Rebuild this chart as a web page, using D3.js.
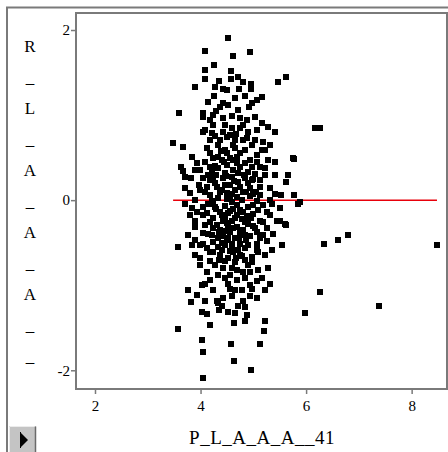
<!DOCTYPE html>
<html>
<head>
<meta charset="utf-8">
<script src="https://cdn.jsdelivr.net/npm/d3@7/dist/d3.min.js"></script>
<style>
  body { margin: 0; background: #fff; }
  svg { display: block; }
</style>
</head>
<body>
<div class="chart"></div>
<script>
// residual points [x, residual]
const points = [
  [4.52, 1.91], [4.08, 1.75], [4.61, 1.69], [4.94, 1.74], [4.25, 1.59], [4.08, 1.53], [4.58, 1.52],
  [4.08, 1.42], [4.58, 1.42], [4.71, 1.45], [4.80, 1.39], [4.95, 1.36], [3.89, 1.33], [4.27, 1.33],
  [4.42, 1.31], [4.73, 1.31], [4.95, 1.31], [5.47, 1.39], [5.62, 1.45], [4.25, 1.22], [5.16, 1.21],
  [5.07, 1.18], [4.97, 1.14], [4.92, 1.09], [4.42, 1.14], [4.37, 1.09], [3.59, 1.02], [4.05, 1.02],
  [4.23, 1.00], [4.05, 0.98], [4.42, 0.96], [4.59, 0.99], [4.88, 0.94], [5.03, 0.98], [5.16, 0.91],
  [5.28, 0.86], [5.41, 0.80], [3.48, 0.67], [3.67, 0.62], [4.05, 0.80], [4.27, 0.75], [4.42, 0.80],
  [4.75, 0.85], [4.90, 0.80], [5.07, 0.82], [4.18, 0.71], [4.50, 0.74], [4.65, 0.71], [4.88, 0.73],
  [5.03, 0.71], [5.18, 0.68], [5.31, 0.65], [3.84, 0.51], [3.93, 0.44], [4.18, 0.55], [4.33, 0.51],
  [4.50, 0.56], [4.69, 0.51], [4.84, 0.59], [5.07, 0.53], [5.41, 0.45], [5.75, 0.49], [3.63, 0.39],
  [4.18, 0.39], [4.50, 0.41], [4.75, 0.39], [4.97, 0.39], [5.13, 0.39],
  [6.17, 0.85], [6.26, 0.85], [5.77, 0.48], [5.66, 0.29], [5.62, 0.21], [5.52, 0.06], [5.77, 0.06],
  [5.88, -0.02], [5.50, -0.24], [5.62, -0.29], [5.54, -0.53], [6.34, -0.52], [6.60, -0.47],
  [6.79, -0.41], [8.48, -0.53], [6.26, -1.08], [5.98, -1.33], [7.38, -1.25],
  [3.67, 0.34], [3.89, 0.35], [4.22, 0.33], [4.46, 0.32], [4.71, 0.32], [5.03, 0.31], [3.70, 0.27],
  [3.82, 0.26], [4.05, 0.26], [4.18, 0.24], [4.42, 0.26], [4.59, 0.27], [4.84, 0.26], [4.97, 0.24],
  [5.13, 0.24], [3.97, 0.18], [4.12, 0.15], [4.31, 0.16], [4.56, 0.18], [4.75, 0.16], [4.94, 0.14],
  [5.13, 0.15], [3.80, 0.08], [4.18, 0.06], [4.37, 0.09], [4.50, 0.08], [4.80, 0.09], [4.99, 0.07],
  [5.41, 0.07], [3.89, 0.00], [4.22, -0.01], [4.50, 0.01], [4.78, 0.00], [5.07, -0.01], [5.31, 0.00],
  [3.70, -0.04], [3.84, -0.09], [4.05, -0.08], [4.23, -0.04], [4.46, -0.07], [4.69, -0.06],
  [4.90, -0.08], [5.18, -0.06], [5.35, -0.04], [5.84, -0.04], [3.93, -0.14], [4.12, -0.15],
  [4.37, -0.14], [4.56, -0.13], [4.80, -0.14], [4.99, -0.16], [5.26, -0.14], [3.89, -0.24],
  [4.05, -0.18], [4.23, -0.21], [4.42, -0.24], [4.65, -0.21], [4.88, -0.19], [5.13, -0.24],
  [4.31, -0.29], [4.50, -0.27], [4.69, -0.31], [4.90, -0.28], [5.18, -0.26], [5.45, -0.24],
  [5.60, -0.28], [4.37, -0.35], [4.56, -0.38], [4.80, -0.35], [5.07, -0.38], [5.26, -0.33],
  [3.89, -0.32], [4.23, -0.33], [4.05, -0.39], [4.42, -0.42], [4.65, -0.45], [4.94, -0.42],
  [5.13, -0.45], [5.37, -0.40], [3.76, -0.41], [3.89, -0.47], [4.05, -0.51], [4.23, -0.49],
  [4.50, -0.47], [4.75, -0.51], [5.07, -0.51], [5.26, -0.48], [3.57, -0.55], [3.84, -0.53],
  [4.12, -0.56], [4.33, -0.55], [4.59, -0.56], [4.84, -0.56], [5.07, -0.59], [3.99, -0.68],
  [4.18, -0.61], [4.37, -0.64], [4.61, -0.61], [4.78, -0.66], [4.97, -0.67], [5.09, -0.61],
  [4.18, -0.71], [4.46, -0.71], [4.65, -0.73], [4.90, -0.76], [3.99, -0.76], [4.12, -0.85],
  [4.42, -0.80], [4.69, -0.82], [4.94, -0.85], [5.09, -0.82], [5.28, -0.80], [4.18, -0.94],
  [4.46, -0.91], [4.69, -0.94], [4.84, -0.92], [5.07, -0.95], [5.31, -0.98], [4.03, -1.00],
  [4.23, -1.06], [4.56, -1.04], [4.78, -1.06], [4.97, -1.04], [3.93, -1.11], [4.42, -1.15],
  [4.59, -1.13], [4.80, -1.18], [5.07, -1.15], [3.76, -1.06], [4.08, -1.18], [4.41, -1.25],
  [4.71, -1.24], [4.84, -1.26],
  [3.82, -1.20], [4.03, -1.31], [4.12, -1.34], [4.33, -1.21], [4.52, -1.32], [4.65, -1.33],
  [4.88, -1.35], [4.35, -1.29], [3.57, -1.51], [4.18, -1.47], [4.63, -1.45], [4.84, -1.42],
  [5.22, -1.42], [5.20, -1.54], [4.03, -1.64], [4.58, -1.69], [5.13, -1.69], [4.05, -1.78],
  [4.63, -1.89], [4.95, -2.00], [4.05, -2.09],
  [4.27, 0.20], [4.65, 0.12], [4.41, -0.18], [4.84, -0.26], [4.59, -0.02], [4.33, 0.02],
  [4.94, 0.05], [4.75, -0.12], [4.52, -0.31], [4.22, -0.41], [4.84, -0.41], [4.59, -0.52],
  [4.41, -0.59], [4.75, -0.65], [4.27, -0.76], [4.56, -0.88], [4.94, -1.00], [4.33, 0.65],
  [4.65, 0.61], [4.94, 0.47], [4.41, 0.47], [4.08, 0.45], [4.59, 0.85], [4.23, 0.88],
  [4.75, 0.96], [5.22, 0.59], [5.22, 0.29], [5.31, 0.14], [3.99, 0.12], [4.08, -0.29],
  [5.22, -0.65], [4.65, -1.06],
  [4.08, 0.82], [4.22, 0.79], [4.37, 0.71], [4.56, 0.76], [4.80, 0.71], [4.97, 0.65], [5.16, 0.59],
  [4.12, 0.61], [4.46, 0.59], [4.75, 0.56], [4.23, 0.49], [4.61, 0.47], [4.84, 0.44], [5.07, 0.45],
  [5.28, 0.47], [3.99, 0.35], [4.33, 0.38], [4.61, 0.35], [4.90, 0.33], [5.22, 0.38], [5.41, 0.29],
  [4.52, 1.12], [4.71, 1.06], [4.18, 0.94], [4.80, 0.88],
  [4.23, 0.26], [4.71, 0.21], [4.46, 0.18], [4.90, 0.20], [4.08, 0.09], [4.59, 0.07], [5.13, 0.06],
  [4.27, -0.08], [4.99, -0.06], [4.52, -0.15], [4.69, -0.18], [5.09, -0.12], [4.18, -0.26],
  [4.59, -0.24], [5.03, -0.33], [4.75, -0.38], [4.33, -0.45], [4.52, -0.45], [4.90, -0.53],
  [4.46, -0.53], [4.71, -0.59], [4.23, -0.61], [4.52, -0.68], [4.97, -0.73], [4.33, -0.88],
  [4.80, -0.85], [5.16, -0.91], [4.52, -0.98], [4.31, -1.18], [4.94, -1.13], [5.22, -1.06],
  [3.99, -0.53], [3.89, -0.65], [4.08, -0.98], [3.80, -0.18], [3.70, 0.14], [5.31, -0.18],
  [5.35, -0.59], [5.18, -0.41], [5.50, -0.09],
  [4.29, 0.30], [4.48, 0.28], [4.63, 0.22], [4.82, 0.30], [4.40, 0.12], [4.55, 0.03], [4.70, 0.04],
  [4.86, 0.10], [4.30, -0.10], [4.47, -0.20], [4.62, -0.10], [4.78, -0.22], [4.95, -0.21],
  [4.35, -0.38], [4.48, -0.36], [4.62, -0.33], [4.72, -0.45], [4.87, -0.47], [4.40, -0.50],
  [4.55, -0.60], [4.68, -0.68], [4.85, -0.70], [4.35, -0.70], [4.60, -0.80], [4.28, 0.40],
  [4.45, 0.45], [4.70, 0.44], [4.55, 0.50], [4.38, 0.58], [4.62, 0.65], [4.47, 0.88], [4.68, 0.78],
  [4.30, 1.05], [4.65, 1.20], [4.50, 1.30], [4.85, 1.22], [4.15, 1.15], [4.35, 1.40], [4.15, 0.30],
  [4.15, -0.40], [4.15, -0.05], [5.00, 0.25], [5.00, -0.30], [5.05, 0.10]
]
const xTicks = [2, 4, 6, 8]
const yTicks = [-2, 0, 2]
const xLabel = "P_L_A_A_A__41"
const yLabel = ["R", "_", "L", "_", "A", "_", "A", "_", "A", "_", "_"]

const width = 448
const height = 452
const frame = { left: 76, right: 447, top: 13, bottom: 389 }
const grey = "#7a7a7a"
const serif = "'Liberation Serif', 'Times New Roman', Times, serif"

const svg = d3.select(".chart").append("svg").attr("width", width).attr("height", height)

// outer panel frame
svg.append("rect")
  .attr("x", 7).attr("y", 7.5).attr("width", 500).attr("height", 500)
  .attr("fill", "none").attr("stroke", grey).attr("stroke-width", 2)

const xScale = d3.scaleLinear().domain([1.64, 8.67]).range([frame.left, frame.right])
const yScale = d3.scaleLinear().domain([-2.22, 2.2]).range([frame.bottom, frame.top])

// plot frame
svg.append("rect")
  .attr("x", frame.left).attr("y", frame.top)
  .attr("width", frame.right - frame.left).attr("height", frame.bottom - frame.top)
  .attr("fill", "#fff").attr("stroke", grey).attr("stroke-width", 2)

const xAxis = d3.axisBottom(xScale).tickValues(xTicks).tickFormat(d => String(d))
  .tickSize(5).tickPadding(6).tickSizeOuter(0)
const yAxis = d3.axisLeft(yScale).tickValues(yTicks).tickFormat(d => String(d))
  .tickSize(5).tickPadding(1).tickSizeOuter(0)

const xAxisGroup = svg.append("g").attr("transform", `translate(0, ${frame.bottom})`).call(xAxis)
const yAxisGroup = svg.append("g").attr("transform", `translate(${frame.left}, 0)`).call(yAxis)

;[xAxisGroup, yAxisGroup].forEach(g => {
  g.select(".domain").remove()
  g.selectAll(".tick line").attr("stroke", grey).attr("stroke-width", 1.5)
  g.selectAll(".tick text").attr("fill", "#000").style("font-family", serif).style("font-size", "15px")
})

// zero reference line across the range of x
const xExtent = d3.extent(points, d => d[0])
svg.append("line")
  .attr("x1", xScale(xExtent[0])).attr("x2", xScale(xExtent[1]))
  .attr("y1", yScale(0)).attr("y2", yScale(0))
  .attr("stroke", "#e8000b").attr("stroke-width", 1.5)

// points
svg.append("g").selectAll("rect")
  .data(points)
  .enter().append("rect")
  .attr("x", d => Math.round(xScale(d[0])) - 3)
  .attr("y", d => Math.round(yScale(d[1])) - 3)
  .attr("width", 6).attr("height", 6)
  .attr("fill", "#000")

// axis titles
svg.append("text")
  .attr("x", 262).attr("y", 444)
  .attr("text-anchor", "middle")
  .style("font-family", serif).style("font-size", "19px").style("letter-spacing", "0.5px")
  .text(xLabel)

svg.append("g").selectAll("text")
  .data(yLabel)
  .enter().append("text")
  .attr("x", 30).attr("y", (d, i) => 52 + 31 * i)
  .attr("text-anchor", "middle")
  .style("font-family", serif).style("font-size", "17px")
  .text(d => d)

// little play button bottom left
const btn = svg.append("g")
btn.append("rect").attr("x", 9).attr("y", 426).attr("width", 27).attr("height", 27).attr("fill", "#c4c4c4")
btn.append("path").attr("d", "M9.5,452 V426.5 H35.5").attr("fill", "none").attr("stroke", "#ececec").attr("stroke-width", 1)
btn.append("path").attr("d", "M35.5,426.5 V452").attr("fill", "none").attr("stroke", "#6a6a6a").attr("stroke-width", 1.5)
btn.append("line").attr("x1", 20.5).attr("x2", 20.5).attr("y1", 432).attr("y2", 448).attr("stroke", "#000").attr("stroke-width", 1)
btn.append("path").attr("d", "M21,433 L28,440 L21,447 Z").attr("fill", "#000")
</script>
</body>
</html>
